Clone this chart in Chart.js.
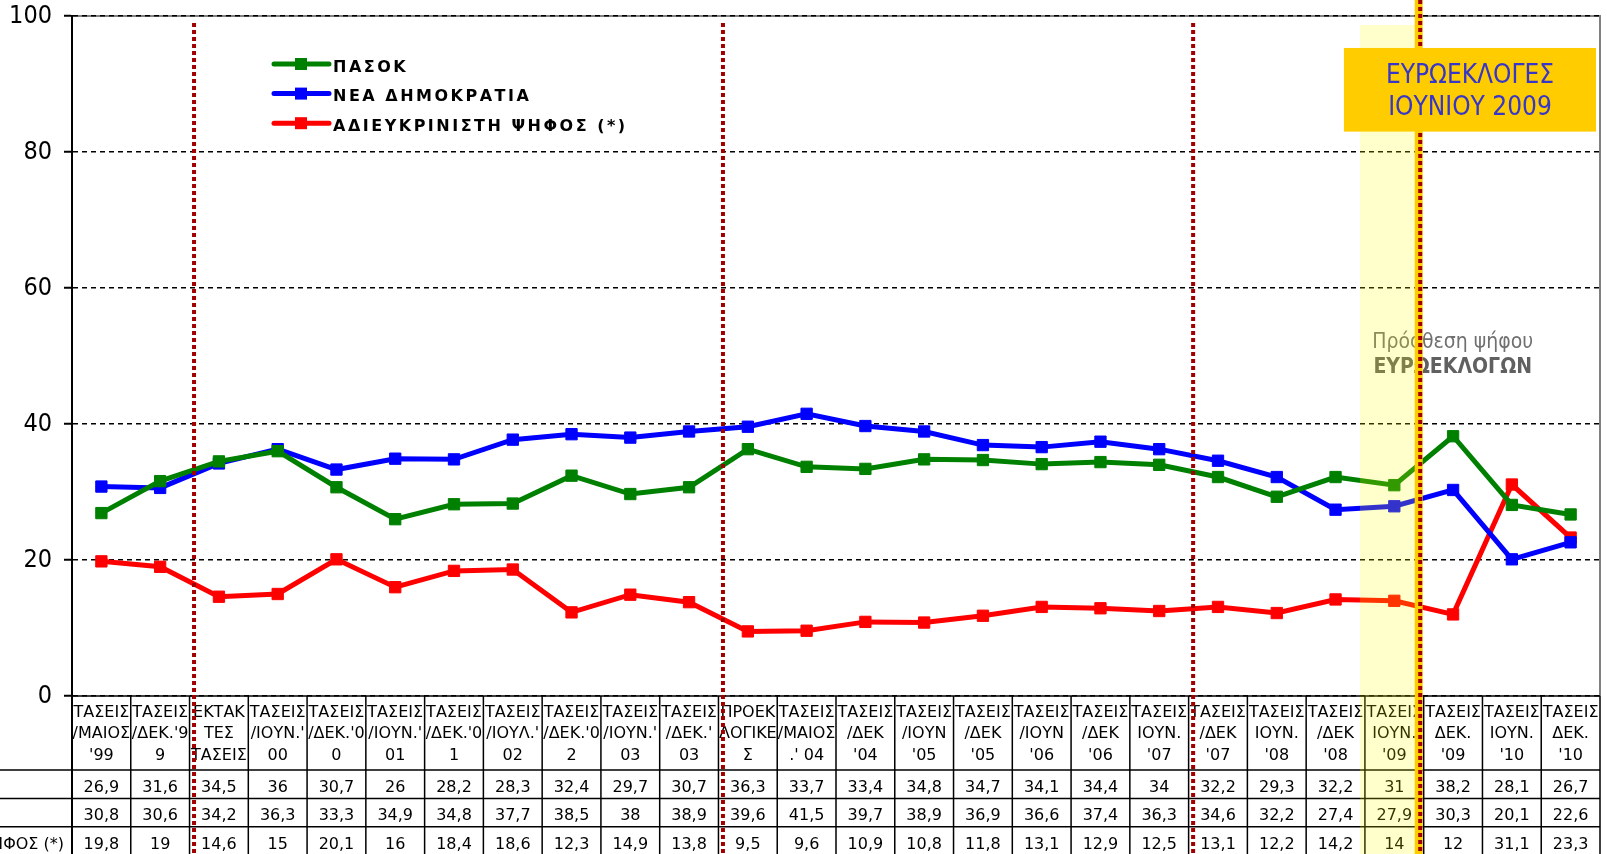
<!DOCTYPE html>
<html>
<head>
<meta charset="utf-8">
<script src="https://cdn.jsdelivr.net/npm/chart.js@4.4.1/dist/chart.umd.min.js"></script>
<style>
  html, body { margin: 0; padding: 0; background: #fff; }
  canvas { display: block; }
</style>
</head>
<body>
<canvas id="pollChart" width="1607" height="854"></canvas>
<script>
// column headers of the data table (3 wrapped lines each)
const categories = [
  ['ΤΑΣΕΙΣ', '/ΜΑΙΟΣ', "'99"],
  ['ΤΑΣΕΙΣ', "/ΔΕΚ.'9", '9'],
  ['ΕΚΤΑΚ', 'ΤΕΣ', 'ΤΑΣΕΙΣ'],
  ['ΤΑΣΕΙΣ', "/ΙΟΥΝ.'", '00'],
  ['ΤΑΣΕΙΣ', "/ΔΕΚ.'0", '0'],
  ['ΤΑΣΕΙΣ', "/ΙΟΥΝ.'", '01'],
  ['ΤΑΣΕΙΣ', "/ΔΕΚ.'0", '1'],
  ['ΤΑΣΕΙΣ', "/ΙΟΥΛ.'", '02'],
  ['ΤΑΣΕΙΣ', "/ΔΕΚ.'0", '2'],
  ['ΤΑΣΕΙΣ', "/ΙΟΥΝ.'", '03'],
  ['ΤΑΣΕΙΣ', "/ΔΕΚ.'", '03'],
  ['ΠΡΟΕΚ', 'ΛΟΓΙΚΕ', 'Σ'],
  ['ΤΑΣΕΙΣ', '/ΜΑΙΟΣ', ".' 04"],
  ['ΤΑΣΕΙΣ', '/ΔΕΚ', "'04"],
  ['ΤΑΣΕΙΣ', '/ΙΟΥΝ', "'05"],
  ['ΤΑΣΕΙΣ', '/ΔΕΚ', "'05"],
  ['ΤΑΣΕΙΣ', '/ΙΟΥΝ', "'06"],
  ['ΤΑΣΕΙΣ', '/ΔΕΚ', "'06"],
  ['ΤΑΣΕΙΣ', 'ΙΟΥΝ.', "'07"],
  ['ΤΑΣΕΙΣ', '/ΔΕΚ', "'07"],
  ['ΤΑΣΕΙΣ', 'ΙΟΥΝ.', "'08"],
  ['ΤΑΣΕΙΣ', '/ΔΕΚ', "'08"],
  ['ΤΑΣΕΙΣ', 'ΙΟΥΝ.', "'09"],
  ['ΤΑΣΕΙΣ', 'ΔΕΚ.', "'09"],
  ['ΤΑΣΕΙΣ', 'ΙΟΥΝ.', "'10"],
  ['ΤΑΣΕΙΣ', 'ΔΕΚ.', "'10"]
];

const seriesNames = ['ΠΑΣΟΚ', 'ΝΕΑ ΔΗΜΟΚΡΑΤΙΑ', 'ΑΔΙΕΥΚΡΙΝΙΣΤΗ ΨΗΦΟΣ (*)'];
const seriesColors = ['#008000', '#0000ff', '#ff0000'];

const pasok = [26.9, 31.6, 34.5, 36, 30.7, 26, 28.2, 28.3, 32.4, 29.7, 30.7, 36.3, 33.7,
  33.4, 34.8, 34.7, 34.1, 34.4, 34, 32.2, 29.3, 32.2, 31, 38.2, 28.1, 26.7];
const nd = [30.8, 30.6, 34.2, 36.3, 33.3, 34.9, 34.8, 37.7, 38.5, 38, 38.9, 39.6, 41.5,
  39.7, 38.9, 36.9, 36.6, 37.4, 36.3, 34.6, 32.2, 27.4, 27.9, 30.3, 20.1, 22.6];
const undecided = [19.8, 19, 14.6, 15, 20.1, 16, 18.4, 18.6, 12.3, 14.9, 13.8, 9.5, 9.6,
  10.9, 10.8, 11.8, 13.1, 12.9, 12.5, 13.1, 12.2, 14.2, 14, 12, 31.1, 23.3];

const yTicks = [0, 20, 40, 60, 80, 100];

// columns where a new period starts (dotted separators)
const phaseBreaks = [2, 11, 19];
// highlighted column (euro-elections)
const euroColumn = 22;
const euroBoxLines = ['ΕΥΡΩΕΚΛΟΓΕΣ', 'ΙΟΥΝΙΟΥ 2009'];
const euroNoteLines = ['Πρόσθεση ψήφου', 'ΕΥΡΩΕΚΛΟΓΩΝ'];

const COND = '"DejaVu Sans Condensed", "DejaVu Sans", sans-serif';
const SANS = '"DejaVu Sans", sans-serif';

function colEdge(chart, k) {
  const x = chart.scales.x;
  const p0 = x.getPixelForValue(0);
  const step = x.getPixelForValue(1) - p0;
  return p0 - step / 2 + k * step;
}

function fmt(v) {
  return String(v).replace('.', ',');
}

const framePlugin = {
  id: 'frame',
  beforeDraw(chart) {
    const ctx = chart.ctx, a = chart.chartArea;
    ctx.save();
    ctx.strokeStyle = '#808080';
    ctx.lineWidth = 2;
    ctx.beginPath();
    ctx.moveTo(a.left, a.top);
    ctx.lineTo(a.right, a.top);
    ctx.lineTo(a.right, a.bottom);
    ctx.stroke();
    ctx.restore();
  }
};

const overlayPlugin = {
  id: 'overlay',
  afterDatasetsDraw(chart) {
    const ctx = chart.ctx, a = chart.chartArea, x = chart.scales.x, y = chart.scales.y;
    const H = chart.height;
    const n = categories.length;
    const sets = chart.data.datasets;

    ctx.save();

    // ---- data table ----
    const headTop = a.bottom;
    const headBottom = a.bottom + 74;
    const rowH = 28.4;
    ctx.strokeStyle = '#000';
    ctx.lineWidth = 1.5;
    ctx.beginPath();
    for (let k = 0; k <= n; k++) {
      const ex = colEdge(chart, k);
      ctx.moveTo(ex, headTop);
      ctx.lineTo(ex, H);
    }
    ctx.moveTo(a.left, headTop);
    ctx.lineTo(a.right, headTop);
    for (let r = 0; r <= 3; r++) {
      ctx.moveTo(0, headBottom + rowH * r);
      ctx.lineTo(colEdge(chart, n), headBottom + rowH * r);
    }
    ctx.stroke();
    ctx.lineWidth = 2;
    ctx.beginPath();
    ctx.moveTo(a.left, a.bottom);
    ctx.lineTo(a.left, H);
    ctx.stroke();

    ctx.fillStyle = '#000';
    ctx.textAlign = 'center';
    ctx.textBaseline = 'alphabetic';
    ctx.font = '16px ' + SANS;
    const headBase = [21, 41.5, 64];
    categories.forEach((lines, i) => {
      const cx = x.getPixelForValue(i);
      lines.forEach((t, j) => ctx.fillText(t, cx, headTop + headBase[j]));
    });
    sets.forEach((ds, r) => {
      const by = headBottom + rowH * r + 22;
      ds.data.forEach((v, i) => ctx.fillText(fmt(v), x.getPixelForValue(i), by));
    });
    // row labels (left column, mostly outside the page)
    const longest = Math.max(...sets.map(ds => ctx.measureText(ds.label).width));
    ctx.textAlign = 'left';
    sets.forEach((ds, r) => {
      const by = headBottom + rowH * r + 22;
      ctx.fillText(ds.label, a.left - 8 - longest, by);
    });

    // ---- euro-elections note (under the marker line) ----
    const euroRight = colEdge(chart, euroColumn + 1);
    ctx.textAlign = 'center';
    ctx.fillStyle = '#707070';
    ctx.font = '21px ' + COND;
    ctx.fillText(euroNoteLines[0], euroRight + 29, y.getPixelForValue(51.2));
    ctx.fillStyle = '#606060';
    ctx.font = 'bold 21px ' + COND;
    ctx.fillText(euroNoteLines[1], euroRight + 29, y.getPixelForValue(47.5));

    // ---- highlighted column ----
    ctx.fillStyle = 'rgba(255,255,0,0.2)';
    const bandL = colEdge(chart, euroColumn) - 5;
    ctx.fillRect(bandL, 25, euroRight - 8 - bandL, H - 25);

    // orange marker line
    ctx.fillStyle = '#ffcc00';
    ctx.fillRect(euroRight - 9, 0, 8, H);

    // dotted separators
    ctx.strokeStyle = '#a00000';
    ctx.lineWidth = 4;
    ctx.setLineDash([4, 3]);
    ctx.beginPath();
    phaseBreaks.forEach(k => {
      const ex = colEdge(chart, k) + 4.5;
      ctx.moveTo(ex, 23);
      ctx.lineTo(ex, H);
    });
    ctx.moveTo(euroRight - 3.5, 0);
    ctx.lineTo(euroRight - 3.5, H);
    ctx.stroke();
    ctx.setLineDash([]);

    // euro-elections box
    const boxL = colEdge(chart, euroColumn) - 21;
    const boxR = a.right - 4;
    const boxT = y.getPixelForValue(95.3);
    const boxB = y.getPixelForValue(83);
    ctx.fillStyle = '#ffcc00';
    ctx.fillRect(boxL, boxT, boxR - boxL, boxB - boxT);
    ctx.fillStyle = '#3636c8';
    ctx.font = '26px ' + COND;
    const bx = (boxL + boxR) / 2;
    ctx.fillText(euroBoxLines[0], bx, y.getPixelForValue(90.15));
    ctx.fillText(euroBoxLines[1], bx, y.getPixelForValue(85.45));

    // ---- legend ----
    ctx.textAlign = 'left';
    ctx.font = 'bold 16px ' + SANS;
    ctx.letterSpacing = '2.5px';
    sets.forEach((ds, r) => {
      const ly = 64 + r * 29.6;
      ctx.strokeStyle = ds.borderColor;
      ctx.lineWidth = 5;
      ctx.lineCap = 'round';
      ctx.beginPath();
      ctx.moveTo(274, ly);
      ctx.lineTo(329, ly);
      ctx.stroke();
      ctx.fillStyle = ds.borderColor;
      ctx.fillRect(295, ly - 6, 12, 12);
      ctx.fillStyle = '#000';
      ctx.fillText(ds.label, 333, ly + 7.7);
    });
    ctx.letterSpacing = '0px';
    ctx.restore();
  }
};

const seriesData = [pasok, nd, undecided];

new Chart(document.getElementById('pollChart'), {
  type: 'line',
  data: {
    labels: categories.map(c => c.join(' ')),
    datasets: seriesNames.map((name, i) => ({
      label: name,
      data: seriesData[i],
      borderColor: seriesColors[i],
      backgroundColor: seriesColors[i],
      borderWidth: 5,
      pointStyle: 'rect',
      pointRadius: 8,
      pointBorderWidth: 1,
      tension: 0,
      fill: false
    }))
  },
  options: {
    responsive: false,
    animation: false,
    devicePixelRatio: 1,
    layout: { autoPadding: false, padding: { top: 16, right: 7, bottom: 158, left: 0 } },
    plugins: {
      legend: { display: false },
      tooltip: { enabled: false }
    },
    scales: {
      x: {
        type: 'category',
        offset: true,
        display: false
      },
      y: {
        min: 0,
        max: 100,
        afterBuildTicks: s => { s.ticks = yTicks.map(v => ({ value: v })); },
        afterFit: s => {
          s.width = 72;
          s.paddingTop = 0;
          s.paddingBottom = 0;
        },
        ticks: {
          color: '#000',
          padding: 12,
          font: { family: COND, size: 25 }
        },
        grid: {
          color: '#000',
          lineWidth: 1.5,
          tickLength: 8,
          tickColor: '#000',
          tickWidth: 2
        },
        border: { display: true, color: '#000', width: 2, dash: [5, 4] }
      }
    }
  },
  plugins: [framePlugin, overlayPlugin]
});
</script>
</body>
</html>
